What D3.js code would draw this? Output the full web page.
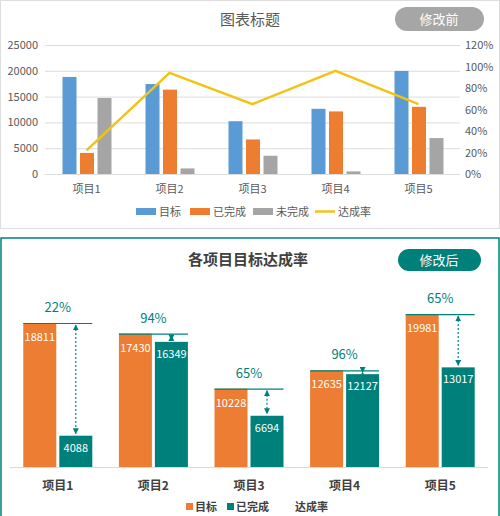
<!DOCTYPE html>
<html><head><meta charset="utf-8">
<script src="https://cdn.jsdelivr.net/npm/d3@7"></script>
<style>
body{margin:0;background:#fff;font-family:"Noto Sans CJK SC","Noto Sans",sans-serif;}
</style></head>
<body><svg id="c" width="500" height="516"></svg>
<script>
var categories = ["项目1", "项目2", "项目3", "项目4", "项目5"];
var target = [18811, 17430, 10228, 12635, 19981];
var done = [4088, 16349, 6694, 12127, 13017];
var notDone = [14723, 1081, 3534, 508, 6964];
var rate = [0.22, 0.94, 0.65, 0.96, 0.65];
var leftTicks = [0, 5000, 10000, 15000, 20000, 25000];
var rightTicks = [0, 0.2, 0.4, 0.6, 0.8, 1.0, 1.2];

var svg = d3.select("#c");
var teal = "#00807a", orange = "#ec7d32";

// ---------- top: before ----------
svg.append("rect").attr("x", 0.5).attr("y", 0.5).attr("width", 499).attr("height", 228)
  .attr("fill", "#fff").attr("stroke", "#ddd");
svg.append("text").text("图表标题").attr("x", 250).attr("y", 25).attr("text-anchor", "middle")
  .attr("font-size", 15).attr("fill", "#595959");
svg.append("rect").attr("x", 395).attr("y", 7).attr("width", 89).attr("height", 24).attr("rx", 12).attr("fill", "#a6a6a6");
svg.append("text").text("修改前").attr("x", 439).attr("y", 24).attr("text-anchor", "middle")
  .attr("font-size", 13).attr("fill", "#fff");

var x1 = d3.scaleBand().domain(categories).range([45, 460]);
var y1 = d3.scaleLinear().domain([0, 25000]).range([174, 45]);
var y1r = d3.scaleLinear().domain([0, 1.2]).range([174, 45]);

var gTop = svg.append("g");
gTop.selectAll(".grid").data(leftTicks).enter().append("line")
  .attr("x1", 45).attr("x2", 460).attr("y1", d => y1(d) + 0.5).attr("y2", d => y1(d) + 0.5)
  .attr("stroke", "#dcdcdc");
gTop.selectAll(".lt").data(leftTicks).enter().append("text").text(d => d)
  .attr("x", 38).attr("y", d => y1(d) + 4).attr("text-anchor", "end").attr("font-size", 11).attr("fill", "#595959");
gTop.selectAll(".rt").data(rightTicks).enter().append("text").text(d => Math.round(d * 100) + "%")
  .attr("x", 465).attr("y", d => y1r(d) + 4).attr("font-size", 11).attr("fill", "#595959");
gTop.selectAll(".cl").data(categories).enter().append("text").text(d => d)
  .attr("x", d => x1(d) + x1.bandwidth() / 2).attr("y", 193).attr("text-anchor", "middle")
  .attr("font-size", 11).attr("fill", "#595959");

var series = [[target, "#5b9bd5"], [done, "#ed7d31"], [notDone, "#a5a5a5"]];
var bw = 14;
series.forEach(function (s, si) {
  gTop.selectAll(".b" + si).data(s[0]).enter().append("rect")
    .attr("x", (d, i) => x1(categories[i]) + x1.bandwidth() / 2 - 24 + si * 17.5)
    .attr("y", d => y1(d)).attr("width", bw).attr("height", d => 174 - y1(d)).attr("fill", s[1]);
});
var line = d3.line().x((d, i) => x1(categories[i]) + x1.bandwidth() / 2).y(d => y1r(d));
gTop.append("path").datum(rate).attr("d", line).attr("fill", "none").attr("stroke", "#f2c314").attr("stroke-width", 2.5);

var leg1 = [["目标", "#5b9bd5", "bar"], ["已完成", "#ed7d31", "bar"], ["未完成", "#a5a5a5", "bar"], ["达成率", "#f2c314", "line"]];
var lx = [136, 190, 253, 315];
leg1.forEach(function (l, i) {
  if (l[2] == "bar") svg.append("rect").attr("x", lx[i]).attr("y", 208).attr("width", 20).attr("height", 7).attr("fill", l[1]);
  else svg.append("line").attr("x1", lx[i]).attr("x2", lx[i] + 20).attr("y1", 211.5).attr("y2", 211.5).attr("stroke", l[1]).attr("stroke-width", 2.5);
  svg.append("text").text(l[0]).attr("x", lx[i] + 23).attr("y", 216).attr("font-size", 11).attr("fill", "#595959");
});

// ---------- bottom: after ----------
svg.append("rect").attr("x", 1).attr("y", 238).attr("width", 498).attr("height", 280)
  .attr("fill", "#fff").attr("stroke", teal).attr("stroke-width", 1.5);
svg.append("text").text("各项目目标达成率").attr("x", 248).attr("y", 265).attr("text-anchor", "middle")
  .attr("font-size", 15).attr("font-weight", "bold").attr("fill", "#404040");
svg.append("rect").attr("x", 398).attr("y", 249).attr("width", 83).attr("height", 22).attr("rx", 11).attr("fill", teal);
svg.append("text").text("修改后").attr("x", 439).attr("y", 265).attr("text-anchor", "middle")
  .attr("font-size", 13).attr("fill", "#fff");

var x2 = d3.scaleBand().domain(categories).range([10, 488]);
var y2 = d3.scaleLinear().domain([0, 18811]).range([467, 323]);
var bot = svg.append("g");
var defs = svg.append("defs");
defs.append("marker").attr("id", "ar").attr("viewBox", "0 0 10 10").attr("refX", 9).attr("refY", 5)
  .attr("markerWidth", 5).attr("markerHeight", 5).attr("orient", "auto-start-reverse")
  .append("path").attr("d", "M0,0L10,5L0,10z").attr("fill", teal);

bot.append("line").attr("x1", 10).attr("x2", 488).attr("y1", 467.5).attr("y2", 467.5).attr("stroke", "#d9d9d9");
var cx = d => x2(d) + x2.bandwidth() / 2;
var bw2 = 33;
bot.selectAll(".ot").data(target).enter().append("rect")
  .attr("x", (d, i) => cx(categories[i]) - bw2 - 1.5).attr("y", d => y2(d)).attr("width", bw2)
  .attr("height", d => 467 - y2(d)).attr("fill", orange);
bot.selectAll(".td").data(done).enter().append("rect")
  .attr("x", (d, i) => cx(categories[i]) + 1.5).attr("y", d => y2(d)).attr("width", bw2)
  .attr("height", d => 467 - y2(d)).attr("fill", teal);
bot.selectAll(".tl").data(target).enter().append("line")
  .attr("x1", (d, i) => cx(categories[i]) - bw2 - 1.5).attr("x2", (d, i) => cx(categories[i]) + bw2 + 1.5)
  .attr("y1", d => y2(d) + 0.5).attr("y2", d => y2(d) + 0.5).attr("stroke", teal).attr("stroke-width", 1.2);
bot.selectAll(".ar").data(done).enter().append("line")
  .attr("x1", (d, i) => cx(categories[i]) + 18).attr("x2", (d, i) => cx(categories[i]) + 18)
  .attr("y1", (d, i) => y2(target[i]) + 2).attr("y2", d => y2(d) - 2)
  .attr("stroke", teal).attr("stroke-dasharray", "2,2").attr("stroke-width", 1.2)
  .attr("marker-start", "url(#ar)").attr("marker-end", "url(#ar)");
bot.selectAll(".ol").data(target).enter().append("text").text(d => d)
  .attr("x", (d, i) => cx(categories[i]) - 18).attr("y", d => y2(d) + 18).attr("text-anchor", "middle")
  .attr("font-size", 11).attr("fill", "#fff");
bot.selectAll(".dl").data(done).enter().append("text").text(d => d)
  .attr("x", (d, i) => cx(categories[i]) + 18).attr("y", d => y2(d) + 16).attr("text-anchor", "middle")
  .attr("font-size", 11).attr("fill", "#fff");
bot.selectAll(".pl").data(rate).enter().append("text").text(d => Math.round(d * 100) + "%")
  .attr("x", (d, i) => cx(categories[i])).attr("y", (d, i) => y2(target[i]) - 11).attr("text-anchor", "middle")
  .attr("font-size", 13).attr("fill", teal);
bot.selectAll(".cl").data(categories).enter().append("text").text(d => d)
  .attr("x", d => cx(d)).attr("y", 490).attr("text-anchor", "middle")
  .attr("font-size", 12).attr("font-weight", "bold").attr("fill", "#404040");

var leg2 = [["目标", orange, 186], ["已完成", teal, 227], ["达成率", null, 286]];
leg2.forEach(function (l) {
  if (l[1]) svg.append("rect").attr("x", l[2]).attr("y", 503).attr("width", 7).attr("height", 7).attr("fill", l[1]);
  svg.append("text").text(l[0]).attr("x", l[2] + 9).attr("y", 511).attr("font-size", 11).attr("font-weight", "bold").attr("fill", "#404040");
});
</script></body></html>
